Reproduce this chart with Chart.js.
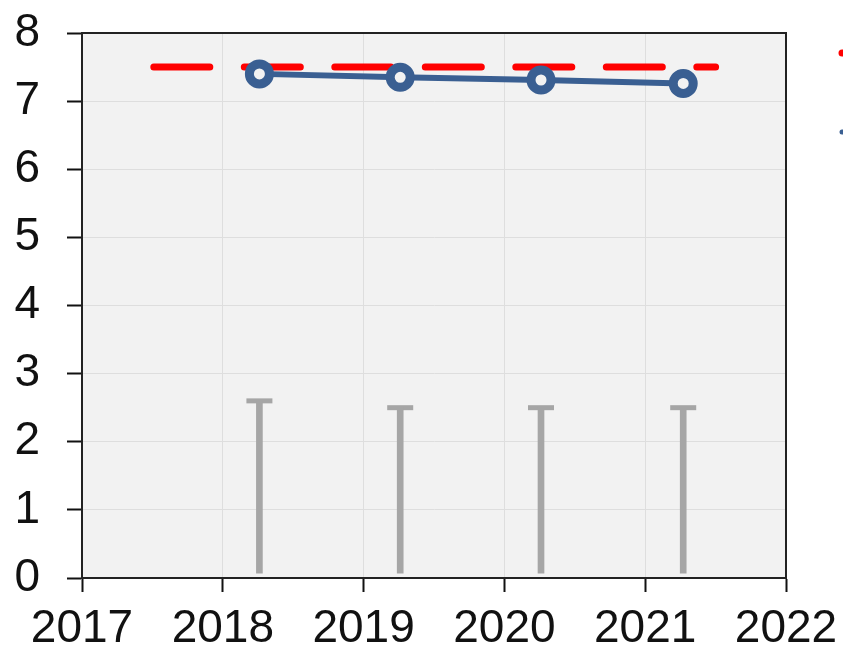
<!DOCTYPE html>
<html>
<head>
<meta charset="utf-8">
<script src="https://cdn.jsdelivr.net/npm/chart.js@4"></script>
<style>
  html, body { margin: 0; padding: 0; background: #fff; overflow: hidden; }
  #wrap { width: 843px; height: 651px; }
</style>
</head>
<body>
<div id="wrap"><canvas id="chart"></canvas></div>
<script>
// values
const years = [2018.26, 2019.26, 2020.26, 2021.27];
const values = [7.40, 7.35, 7.31, 7.26];
const stemTops = [2.6, 2.5, 2.5, 2.5];
const stemBase = 0.07;
const targetValue = 7.5;
const targetFrom = 2017.51;
const targetTo = 2021.50;
const xMin = 2017, xMax = 2022;
const yMin = 0, yMax = 8;

const plotBg = "#f2f2f2";
const blue = "#3a5f92";
const grey = "#a6a6a6";

// grey plot background + dark frame round the plot
const frame = {
    id: "frame",
    beforeDraw(chart) {
        const a = chart.chartArea, c = chart.ctx;
        c.save();
        c.fillStyle = plotBg;
        c.fillRect(a.left, a.top, a.right - a.left, a.bottom - a.top);
        c.restore();
    },
    afterDraw(chart) {
        const a = chart.chartArea, c = chart.ctx;
        c.save();
        c.strokeStyle = "#222";
        c.lineWidth = 2;
        c.strokeRect(a.left, a.top, a.right - a.left, a.bottom - a.top);
        // clipped legend stubs at the right edge
        c.lineCap = "round";
        c.lineWidth = 7;
        c.strokeStyle = "#ff0000";
        c.beginPath();
        c.moveTo(a.right + 56, a.top + 20);
        c.lineTo(a.right + 72, a.top + 20);
        c.stroke();
        c.lineWidth = 5;
        c.strokeStyle = blue;
        c.beginPath();
        c.moveTo(a.right + 56, a.top + 99);
        c.lineTo(a.right + 72, a.top + 99);
        c.stroke();
        c.restore();
    },
};

const ctx = document.getElementById("chart").getContext("2d");

const chart = new Chart(ctx, {
    type: "bar",
    data: {
        datasets: [
            {
                type: "line",
                label: "Value",
                data: years.map((x, i) => ({ x: x, y: values[i] })),
                borderColor: blue,
                borderWidth: 6,
                pointRadius: 10,
                pointBorderWidth: 9,
                pointBackgroundColor: plotBg,
                pointBorderColor: blue,
                tension: 0,
                order: 0,
            },
            {
                type: "line",
                label: "Target",
                data: [
                    { x: targetFrom, y: targetValue },
                    { x: targetTo, y: targetValue },
                ],
                borderColor: "#ff0000",
                borderWidth: 7,
                borderDash: [56, 34.5],
                borderCapStyle: "round",
                pointRadius: 0,
                order: 1,
            },
            {
                type: "bar",
                label: "Range",
                data: years.map((x, i) => ({ x: x, y: [stemBase, stemTops[i]] })),
                backgroundColor: grey,
                barThickness: 6,
                order: 2,
            },
            {
                type: "scatter",
                label: "Cap",
                data: years.map((x, i) => ({ x: x, y: stemTops[i] })),
                pointStyle: "line",
                pointRadius: 13,
                borderWidth: 5,
                borderColor: grey,
                backgroundColor: grey,
                order: 2,
            },
        ],
    },
    plugins: [frame],
    options: {
        responsive: true,
        maintainAspectRatio: false,
        animation: false,
        layout: {
            padding: { top: 33, right: 57, left: 14, bottom: 0 },
        },
        plugins: {
            legend: { display: false },
            tooltip: { enabled: false },
        },
        scales: {
            x: {
                type: "linear",
                min: xMin,
                max: xMax,
                offset: false,
                afterFit(scale) {
                    scale.height = 73;
                    scale.paddingLeft = 0;
                    scale.paddingRight = 0;
                },
                ticks: {
                    stepSize: 1,
                    padding: 14,
                    color: "#111",
                    font: { family: "Liberation Sans", size: 46, lineHeight: 1 },
                    callback: (v) => String(v),
                },
                grid: {
                    color: "#dedede",
                    lineWidth: 1,
                    offset: false,
                    tickColor: "#111",
                    tickLength: 14,
                    tickWidth: 2,
                },
                border: { color: "#222", width: 2 },
            },
            y: {
                min: yMin,
                max: yMax,
                afterFit(scale) {
                    scale.width = 68;
                    scale.paddingTop = 0;
                    scale.paddingBottom = 0;
                },
                ticks: {
                    stepSize: 1,
                    padding: 27,
                    color: "#111",
                    font: { family: "Liberation Sans", size: 46 },
                },
                grid: {
                    color: "#dedede",
                    lineWidth: 1,
                    tickColor: "#111",
                    tickLength: 15,
                    tickWidth: 2,
                },
                border: { color: "#222", width: 2 },
            },
        },
    },
});
</script>
</body>
</html>
